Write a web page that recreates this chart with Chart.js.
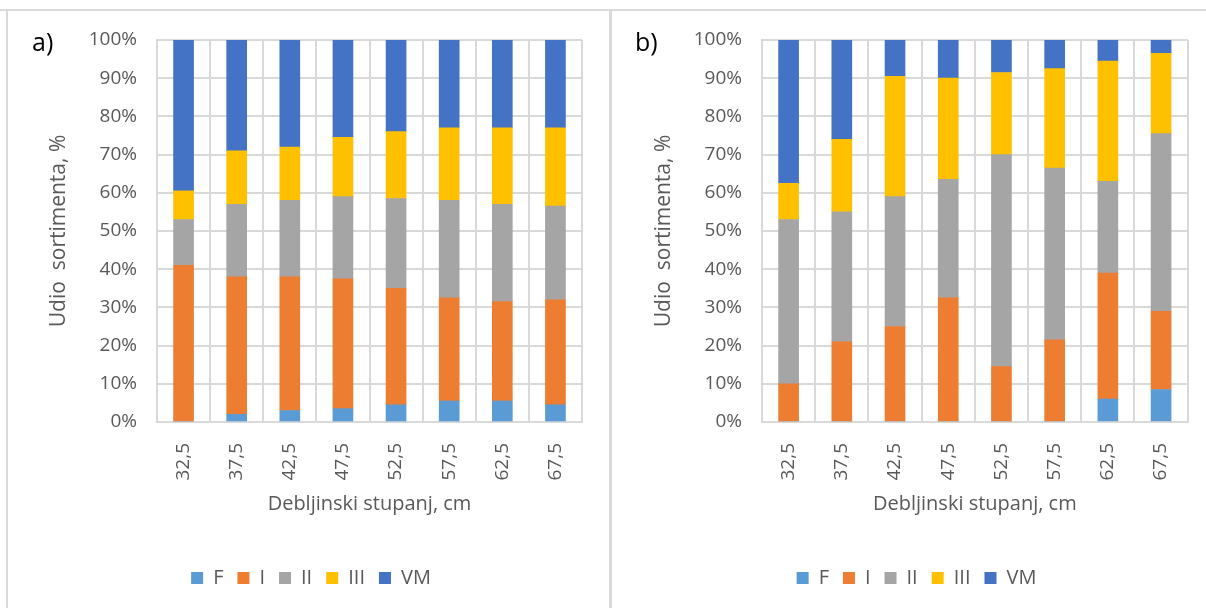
<!DOCTYPE html>
<html>
<head>
<meta charset="utf-8">
<script src="https://cdn.jsdelivr.net/npm/chart.js@4.4.0/dist/chart.umd.min.js"></script>
<style>
body { margin: 0; background: #fff; }
#wrap { position: relative; width: 1206px; height: 608px; overflow: hidden; font-family: "Open Sans", sans-serif; }
canvas { position: absolute; top: 0; }
#cA { left: 0; }
#cB { left: 613px; }
.line { position: absolute; background: #d9d9d9; }
.tag { position: absolute; font-size: 25px; color: #000; font-family: "Open Sans", sans-serif; }
</style>
</head>
<body>
<div id="wrap">
  <canvas id="cA" width="610" height="608"></canvas>
  <canvas id="cB" width="593" height="608"></canvas>
  <div class="line" style="left:0;top:9px;width:1206px;height:2px"></div>
  <div class="line" style="left:6px;top:9px;width:2px;height:599px"></div>
  <div class="line" style="left:609px;top:9px;width:3px;height:599px"></div>
  <div class="tag" style="left:32px;top:24px">a)</div>
  <div class="tag" style="left:635px;top:24px">b)</div>
</div>
<script>
const categories = ["32,5", "37,5", "42,5", "47,5", "52,5", "57,5", "62,5", "67,5"];
const seriesNames = ["F", "I", "II", "III", "VM"];
const seriesColors = ["#5B9BD5", "#ED7D31", "#A5A5A5", "#FFC000", "#4472C4"];
const yTicks = [0, 10, 20, 30, 40, 50, 60, 70, 80, 90, 100];

// a) udio sortimenta, %
const aF   = [0, 2, 3, 3.5, 4.5, 5.5, 5.5, 4.5];
const aI   = [41, 36, 35, 34, 30.5, 27, 26, 27.5];
const aII  = [12, 19, 20, 21.5, 23.5, 25.5, 25.5, 24.5];
const aIII = [7.5, 14, 14, 15.5, 17.5, 19, 20, 20.5];
const aVM  = [39.5, 29, 28, 25.5, 24, 23, 23, 23];

// b) udio sortimenta, %
const bF   = [0, 0, 0, 0, 0, 0, 6, 8.5];
const bI   = [10, 21, 25, 32.5, 14.5, 21.5, 33, 20.5];
const bII  = [43, 34, 34, 31, 55.5, 45, 24, 46.5];
const bIII = [9.5, 19, 31.5, 26.5, 21.5, 26, 31.5, 21];
const bVM  = [37.5, 26, 9.5, 10, 8.5, 7.5, 5.5, 3.5];

const textColor = "#595959";
const gridColor = "#d9d9d9";
const fontFamily = "'Open Sans', sans-serif";

function makeChart(id, series, padLeft, padRight) {
  const datasets = series.map((values, i) => ({
    label: seriesNames[i],
    data: values,
    backgroundColor: seriesColors[i],
    borderWidth: 0,
    barThickness: 20
  }));

  return new Chart(document.getElementById(id), {
    type: "bar",
    data: { labels: categories, datasets: datasets },
    options: {
      responsive: false,
      animation: false,
      layout: { padding: { left: padLeft, right: padRight, top: 40, bottom: 10 } },
      plugins: {
        tooltip: { enabled: false },
        legend: {
          position: "bottom",
          labels: {
            color: textColor,
            font: { family: fontFamily, size: 20 },
            boxWidth: 12,
            boxHeight: 12,
            padding: 14
          }
        }
      },
      scales: {
        x: {
          stacked: true,
          grid: { color: gridColor, lineWidth: 2, drawTicks: false },
          border: { color: gridColor, width: 2 },
          ticks: {
            color: textColor,
            font: { family: fontFamily, size: 19 },
            maxRotation: 90,
            minRotation: 90,
            padding: 21
          },
          title: {
            display: true,
            text: "Debljinski stupanj, cm",
            color: textColor,
            font: { family: fontFamily, size: 20 },
            padding: { top: 0, bottom: 38 }
          },
          afterFit: (scale) => { scale.height = 132; }
        },
        y: {
          stacked: true,
          min: 0,
          max: 100,
          grid: { color: gridColor, lineWidth: 2, drawTicks: false },
          border: { color: gridColor, width: 2 },
          ticks: {
            color: textColor,
            font: { family: fontFamily, size: 19 },
            stepSize: 10,
            padding: 20,
            callback: (v) => yTicks.includes(v) ? v + "%" : ""
          },
          title: {
            display: true,
            text: "Udio  sortimenta, %",
            color: textColor,
            font: { family: fontFamily, size: 21 },
            padding: { top: 6, bottom: 0 }
          },
          afterFit: (scale) => { scale.width = 117; }
        }
      }
    }
  });
}

makeChart("cA", [aF, aI, aII, aIII, aVM], 40, 28);
makeChart("cB", [bF, bI, bII, bIII, bVM], 32, 18);
</script>
</body>
</html>
